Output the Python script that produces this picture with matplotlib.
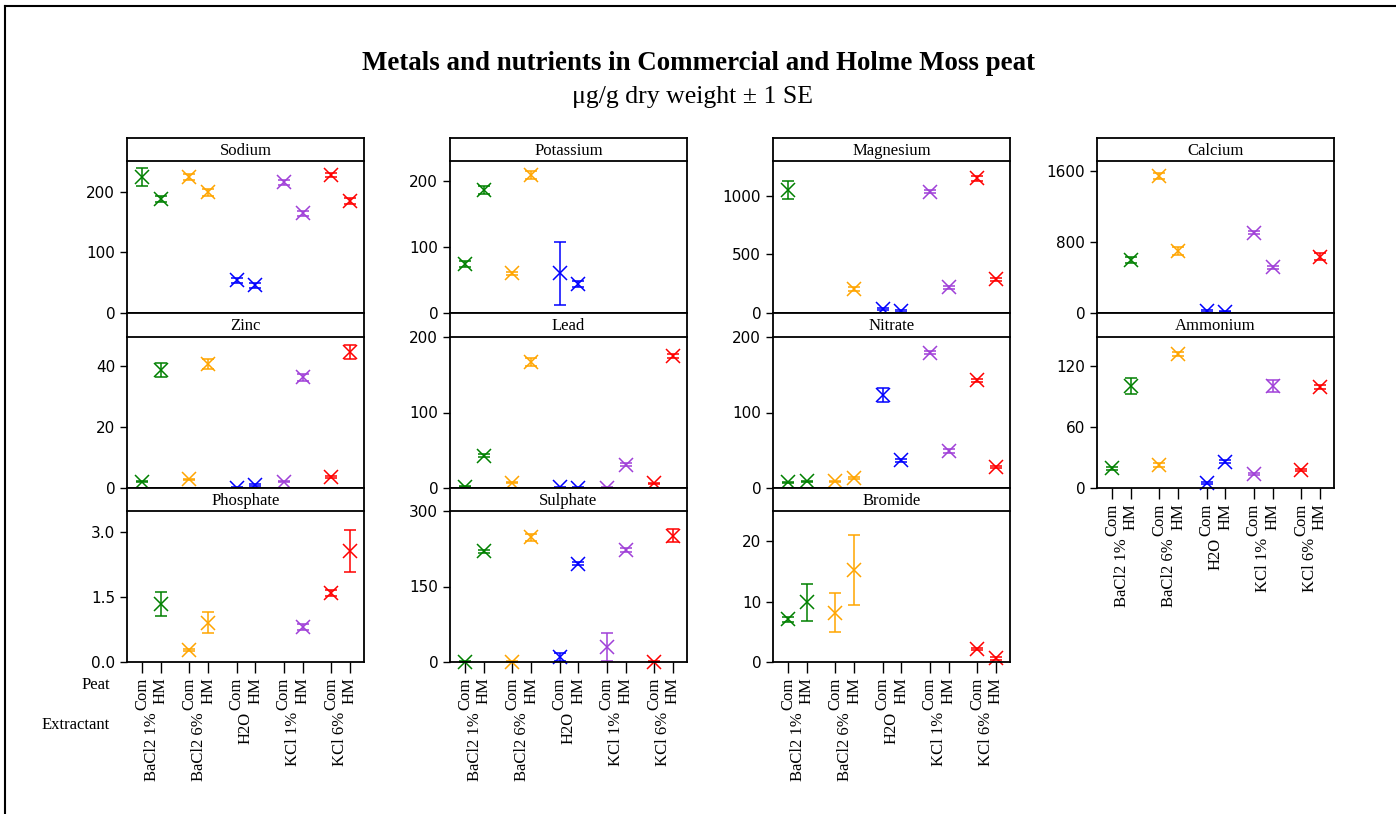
import numpy as np
import matplotlib
matplotlib.use("Agg")
import matplotlib.pyplot as plt

nan = np.nan

# порядок: BaCl2 1% Com, HM, BaCl2 6% Com, HM, H2O Com, HM, KCl 1% Com, HM, KCl 6% Com, HM
extractants = ["BaCl2 1%", "BaCl2 6%", "H2O", "KCl 1%", "KCl 6%"]
peats = ["Com", "HM"]
colors = ["#008000", "#FFA500", "#0000FF", "#A040D8", "#FF0000"]

sodium = [225, 189, 225, 199, 54, 46, 216, 165, 228, 185]
sodium_se = [15, 5, 5, 5, 4, 4, 4, 4, 4, 5]
potassium = [74, 186, 60, 209, 60, 44, nan, nan, nan, nan]
potassium_se = [4, 6, 2, 6, 48, 4, nan, nan, nan, nan]
magnesium = [1051, nan, nan, 205, 34, 17, 1037, 220, 1151, 288]
magnesium_se = [74, nan, nan, 15, 10, 8, 15, 15, 20, 15]
calcium = [nan, 597, 1547, 699, 22, 15, 905, 515, nan, 635]
calcium_se = [nan, 30, 35, 45, 8, 8, 15, 15, nan, 40]
zinc = [2.1, 38.7, 2.8, 40.7, 0.1, 1.0, 2.1, 36.3, 3.5, 44.5]
zinc_se = [0.2, 2.3, 0.3, 1.7, 0.1, 0.2, 0.2, 1.2, 0.3, 2.3]
lead = [1.8, 42.8, 7, 167, 0.9, 0.5, 0.5, 31, 6, 175]
lead_se = [0.5, 2, 1, 5, 0.3, 0.3, 0.3, 1.5, 1, 3]
nitrate = [7.5, 8.8, 8.8, 12.8, 123, 37, 179, 49, 143, 28]
nitrate_se = [1, 1, 1, 1.5, 9.5, 2, 2, 2, 2, 1.5]
ammonium = [19.4, 100.3, 22.6, 131.8, 5.2, 25.9, 13.8, 100.3, 17.7, 99]
ammonium_se = [1.5, 8, 1.5, 2, 1, 1.5, 1, 6, 1, 2]
phosphate = [nan, 1.34, 0.28, 0.91, nan, nan, nan, 0.81, 1.6, 2.56]
phosphate_se = [nan, 0.27, 0.03, 0.25, nan, nan, nan, 0.07, 0.07, 0.48]
sulphate = [0.7, 220, 0.7, 248, 10.6, 195, 29, 222.5, 0.7, 251]
sulphate_se = [0.3, 3, 0.3, 7, 8, 3, 28, 3, 0.3, 13]
bromide = [7.1, 9.87, 8.15, 15.2, nan, nan, nan, nan, 2.15, 0.6]
bromide_se = [0.4, 3.1, 3.25, 5.75, nan, nan, nan, nan, 0.2, 0.2]

# (название, значения, SE, верх оси, деления, строка, столбец)
panels = [
    ("Sodium", sodium, sodium_se, 251, [0, 100, 200], 0, 0),
    ("Potassium", potassium, potassium_se, 230, [0, 100, 200], 0, 1),
    ("Magnesium", magnesium, magnesium_se, 1299, [0, 500, 1000], 0, 2),
    ("Calcium", calcium, calcium_se, 1713, [0, 800, 1600], 0, 3),
    ("Zinc", zinc, zinc_se, 49.5, [0, 20, 40], 1, 0),
    ("Lead", lead, lead_se, 200, [0, 100, 200], 1, 1),
    ("Nitrate", nitrate, nitrate_se, 200, [0, 100, 200], 1, 2),
    ("Ammonium", ammonium, ammonium_se, 148.5, [0, 60, 120], 1, 3),
    ("Phosphate", phosphate, phosphate_se, 3.48, [0.0, 1.5, 3.0], 2, 0),
    ("Sulphate", sulphate, sulphate_se, 300, [0, 150, 300], 2, 1),
    ("Bromide", bromide, bromide_se, 25, [0, 10, 20], 2, 2),
]

W, H = 1396, 814
col_left = [127, 450, 773, 1097]
col_w = 237
row_strip = [(138, 161), (313, 337), (488, 511)]
row_bottom = [313, 488, 662]

serif = "Liberation Serif"
sans = "DejaVu Sans"

x = np.array([g * 2.5 + p for g in range(5) for p in range(2)])


def rect(x0, y0, x1, y1):
    return [x0 / W, 1 - y1 / H, (x1 - x0) / W, (y1 - y0) / H]


fig = plt.figure(figsize=(W / 100, H / 100), dpi=100)

# рамка
fig.add_artist(plt.Line2D([5 / W, 5 / W], [0, 1 - 6 / H], color="black", lw=1.5, transform=fig.transFigure))
fig.add_artist(plt.Line2D([5 / W, 1], [1 - 6 / H, 1 - 6 / H], color="black", lw=1.5, transform=fig.transFigure))

fig.text(0.5, 1 - 64 / H, "Metals and nutrients in Commercial and Holme Moss peat",
         ha="center", va="center", fontsize=19.4, fontweight="bold", family=serif)
fig.text(0.496, 1 - 97 / H, "\u03bcg/g dry weight \u00b1 1 SE",
         ha="center", va="center", fontsize=18.5, family=serif)

for name, vals, se, top, ticks, r, c in panels:
    left = col_left[c]
    st, sb = row_strip[r]
    ax = fig.add_axes(rect(left, sb, left + col_w, row_bottom[r]))
    sax = fig.add_axes(rect(left, st, left + col_w, sb))
    sax.set_xticks([])
    sax.set_yticks([])
    for s in sax.spines.values():
        s.set_linewidth(1.3)
    sax.text(0.5, 0.45, name, ha="center", va="center", fontsize=12, family=serif,
             transform=sax.transAxes)

    vals = np.array(vals, dtype=float)
    se = np.array(se, dtype=float)
    for i in range(10):
        if np.isnan(vals[i]):
            continue
        ax.errorbar(x[i], vals[i], yerr=se[i], fmt="x", color=colors[i // 2],
                    ms=10, mew=1.1, elinewidth=1.1, capsize=4.5, capthick=1.1,
                    clip_on=False)

    ax.set_xlim(-0.8, 11.75)
    ax.set_ylim(0, top)
    ax.set_yticks(ticks)
    if name == "Phosphate":
        ax.set_yticklabels(["%.1f" % t for t in ticks])
    ax.tick_params(axis="y", length=5, width=1, labelsize=11)
    for lab in ax.get_yticklabels():
        lab.set_family(sans)
    for s in ax.spines.values():
        s.set_linewidth(1.3)
    ax.spines["top"].set_visible(False)

    bottom_row = (r == 2) or (name == "Ammonium")
    if bottom_row:
        ax.set_xticks(x)
        ax.set_xticklabels(peats * 5, rotation=90, fontsize=12, family=serif, va="top")
        ax.tick_params(axis="x", length=8, width=1, pad=3)
        for g, ex in enumerate(extractants):
            ax.annotate(ex, xy=(g * 2.5 + 0.5, 0), xycoords=("data", "axes fraction"),
                        xytext=(0, -50), textcoords="offset pixels",
                        ha="center", va="top", rotation=90, fontsize=12, family=serif)
    else:
        ax.set_xticks([])

fig.text(110 / W, 1 - 685 / H, "Peat", ha="right", va="center", fontsize=12, family=serif)
fig.text(110 / W, 1 - 725 / H, "Extractant", ha="right", va="center", fontsize=12, family=serif)

fig.savefig("out.png", dpi=100)
